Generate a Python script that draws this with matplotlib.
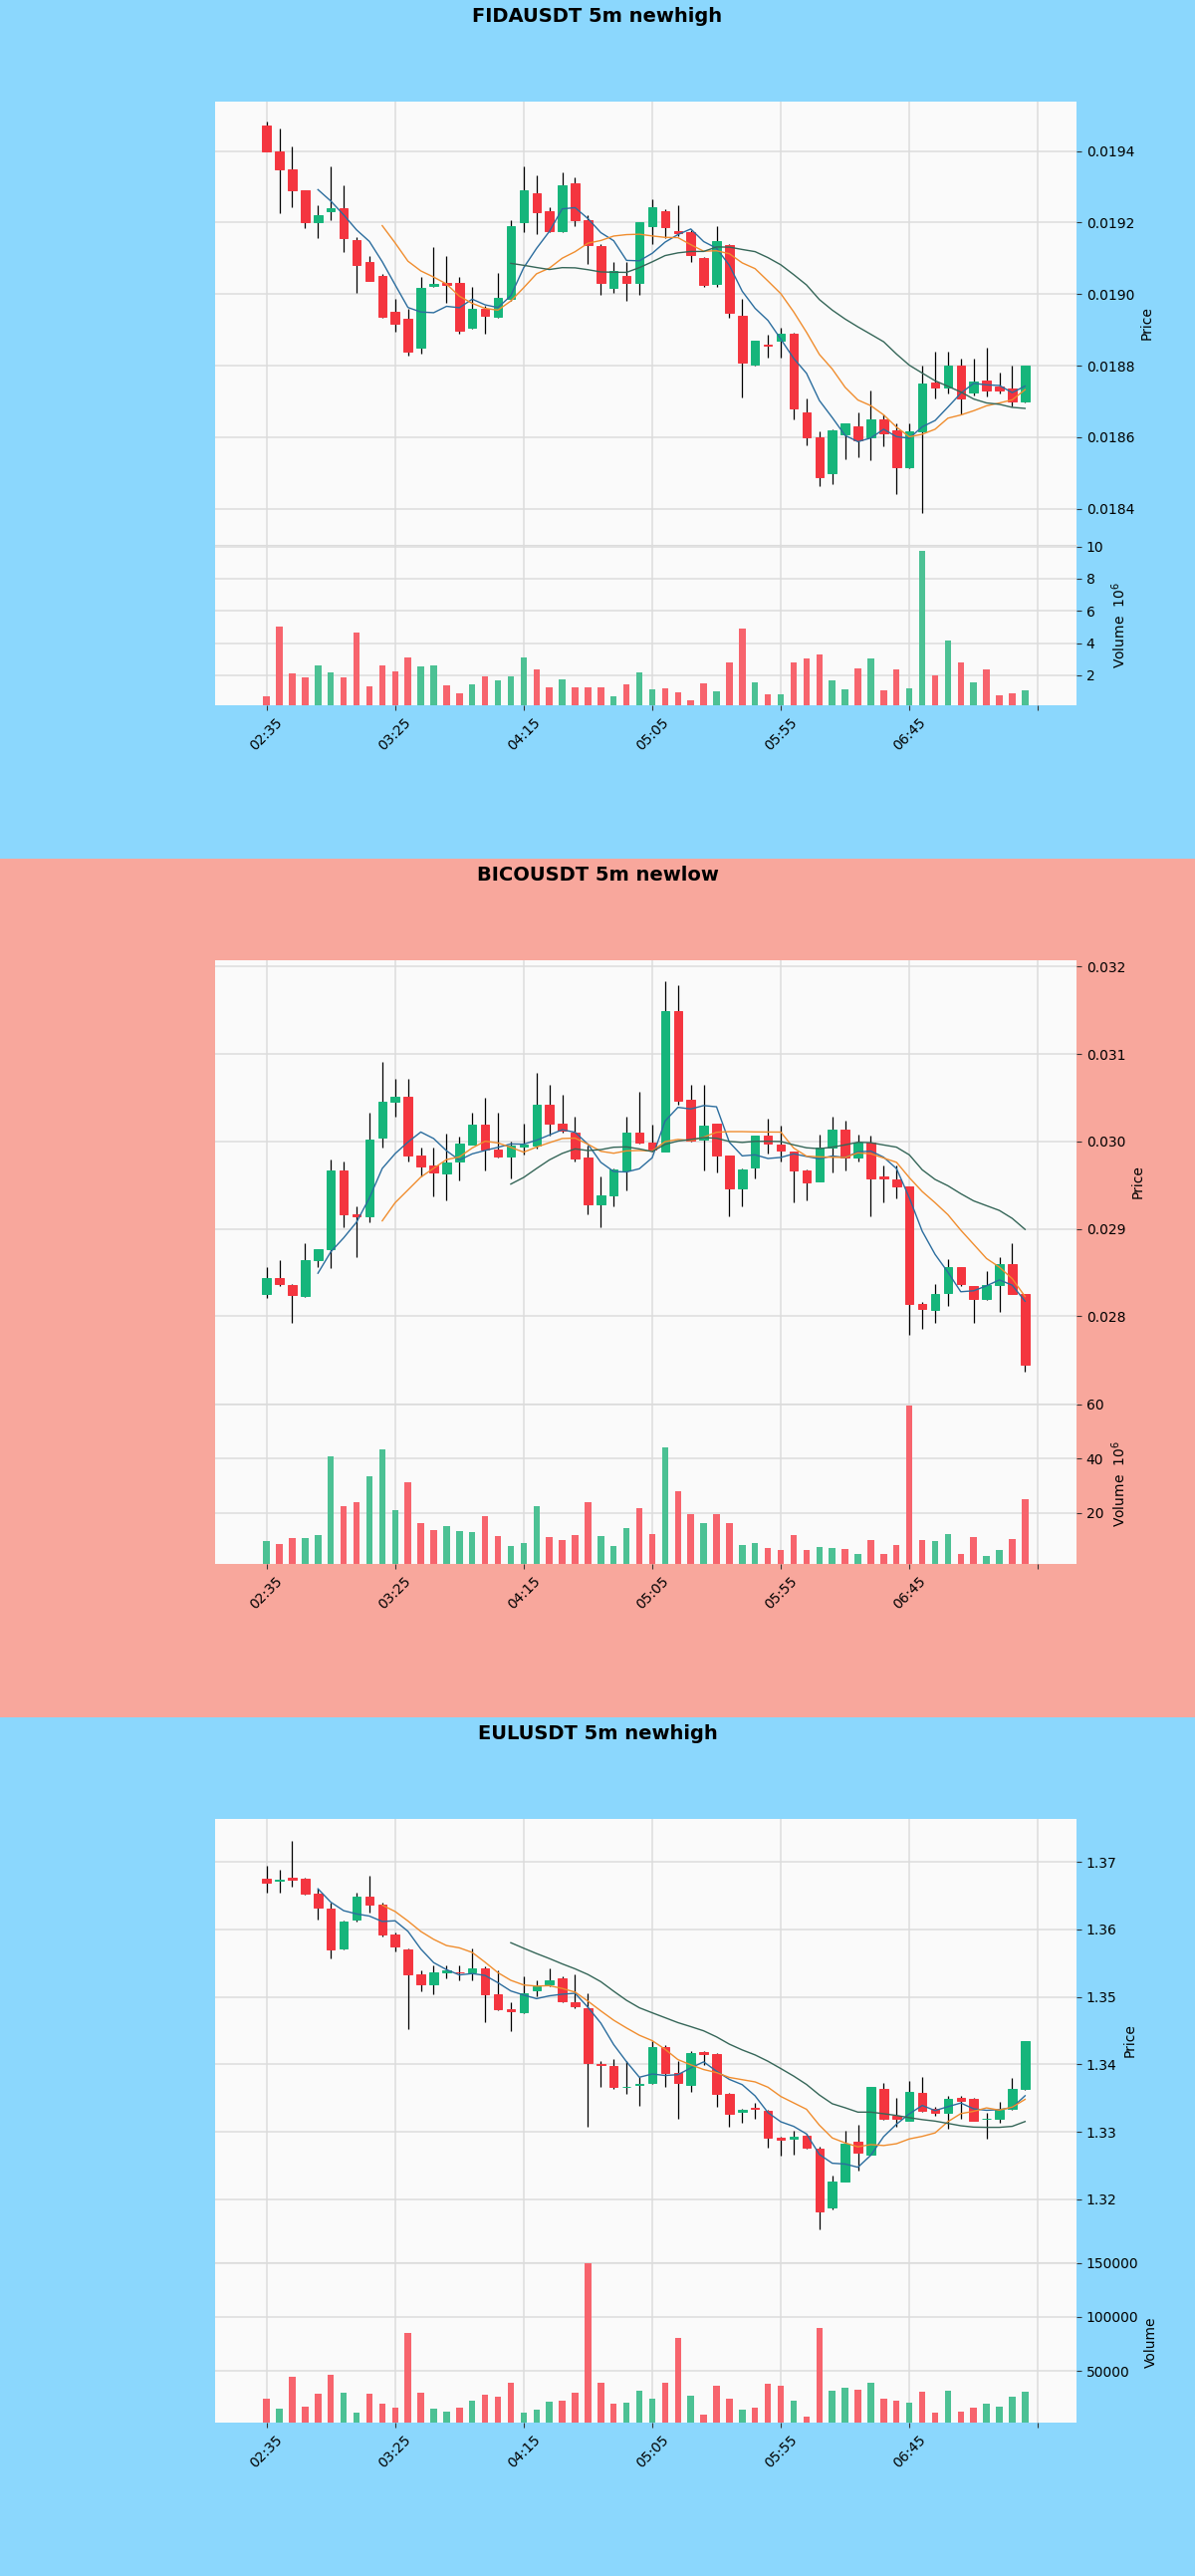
import numpy as np
import pandas as pd
import matplotlib
matplotlib.use("Agg")
import matplotlib.pyplot as plt
from matplotlib.patches import Rectangle
from matplotlib.ticker import MultipleLocator, FormatStrFormatter

# ---- data ----
tick_labels = ['02:35', '03:25', '04:15', '05:05', '05:55', '06:45', '']

# FIDAUSDT
fida_open = [0.019472, 0.019400, 0.019350, 0.019290, 0.019200, 0.019231, 0.019240, 0.019151, 0.019089, 0.019051,
             0.018950, 0.018932, 0.018850, 0.019024, 0.019030, 0.019032, 0.018907, 0.018960, 0.018937, 0.018986,
             0.019200, 0.019282, 0.019231, 0.019177, 0.019310, 0.019208, 0.019134, 0.019017, 0.019052, 0.019030,
             0.019191, 0.019231, 0.019176, 0.019172, 0.019100, 0.019028, 0.019137, 0.018940, 0.018803, 0.018860,
             0.018869, 0.018890, 0.018668, 0.018599, 0.018500, 0.018608, 0.018631, 0.018600, 0.018649, 0.018619,
             0.018515, 0.018617, 0.018753, 0.018739, 0.018799, 0.018725, 0.018759, 0.018742, 0.018736, 0.018699]
fida_high = [0.019483, 0.019464, 0.019412, 0.019290, 0.019248, 0.019356, 0.019305, 0.019160, 0.019106, 0.019055,
             0.018986, 0.018958, 0.019049, 0.019131, 0.019106, 0.019049, 0.019020, 0.018968, 0.019060, 0.019206,
             0.019356, 0.019333, 0.019242, 0.019339, 0.019327, 0.019220, 0.019140, 0.019089, 0.019089, 0.019202,
             0.019265, 0.019236, 0.019248, 0.019180, 0.019105, 0.019191, 0.019140, 0.018986, 0.018871, 0.018886,
             0.018907, 0.018892, 0.018708, 0.018617, 0.018621, 0.018640, 0.018668, 0.018731, 0.018663, 0.018640,
             0.018640, 0.018799, 0.018839, 0.018839, 0.018819, 0.018819, 0.018850, 0.018782, 0.018799, 0.018801]
fida_low = [0.019400, 0.019225, 0.019242, 0.019185, 0.019157, 0.019208, 0.019117, 0.019003, 0.019036, 0.018933,
            0.018895, 0.018827, 0.018833, 0.019020, 0.018975, 0.018890, 0.018903, 0.018888, 0.018935, 0.018980,
            0.019174, 0.019168, 0.019174, 0.019174, 0.019191, 0.019083, 0.018998, 0.019003, 0.018980, 0.018998,
            0.019140, 0.019157, 0.019162, 0.019089, 0.019020, 0.019020, 0.018935, 0.018710, 0.018801, 0.018822,
            0.018822, 0.018651, 0.018577, 0.018464, 0.018469, 0.018538, 0.018543, 0.018535, 0.018574, 0.018441,
            0.018513, 0.018388, 0.018708, 0.018722, 0.018665, 0.018717, 0.018714, 0.018722, 0.018685, 0.018697]
fida_close = [0.019400, 0.019350, 0.019290, 0.019200, 0.019220, 0.019240, 0.019157, 0.019081, 0.019038, 0.018937,
              0.018918, 0.018839, 0.019018, 0.019028, 0.019026, 0.018899, 0.018958, 0.018939, 0.018990, 0.019191,
              0.019290, 0.019228, 0.019177, 0.019305, 0.019208, 0.019137, 0.019032, 0.019064, 0.019030, 0.019202,
              0.019242, 0.019188, 0.019170, 0.019108, 0.019026, 0.019149, 0.018949, 0.018808, 0.018869, 0.018857,
              0.018888, 0.018680, 0.018599, 0.018489, 0.018619, 0.018638, 0.018592, 0.018651, 0.018611, 0.018515,
              0.018617, 0.018751, 0.018739, 0.018799, 0.018708, 0.018756, 0.018730, 0.018730, 0.018699, 0.018799]
fida_vol = [0.72, 5.00, 2.14, 1.84, 2.63, 2.19, 1.89, 4.67, 1.32, 2.63,
            2.21, 3.13, 2.56, 2.58, 1.39, 0.89, 1.44, 1.96, 1.71, 1.96,
            3.13, 2.34, 1.22, 1.76, 1.22, 1.22, 1.27, 0.70, 1.44, 2.19,
            1.12, 1.20, 0.95, 0.45, 1.50, 1.00, 2.82, 4.89, 1.57, 0.82,
            0.82, 2.82, 3.02, 3.32, 1.70, 1.15, 2.44, 3.07, 1.07, 2.39,
            1.20, 9.73, 2.02, 4.14, 2.82, 1.57, 2.39, 0.75, 0.90, 1.05]  # x 1e6

# BICOUSDT
bico_open = [0.028256, 0.028442, 0.028358, 0.028233, 0.028642, 0.028767, 0.029674, 0.029172, 0.029140, 0.030047,
             0.030456, 0.030512, 0.029837, 0.029721, 0.029637, 0.029767, 0.029967, 0.030195, 0.029907, 0.029828,
             0.029944, 0.029953, 0.030419, 0.030209, 0.030102, 0.029814, 0.029279, 0.029386, 0.029665, 0.030102,
             0.029991, 0.029884, 0.031488, 0.030474, 0.030023, 0.030200, 0.029837, 0.029465, 0.029698, 0.030070,
             0.029967, 0.029884, 0.029665, 0.029544, 0.029930, 0.030140, 0.029814, 0.029986, 0.029595, 0.029567,
             0.029488, 0.028140, 0.028070, 0.028270, 0.028558, 0.028349, 0.028195, 0.028363, 0.028595, 0.028256]
bico_high = [0.028558, 0.028642, 0.028365, 0.028837, 0.028770, 0.029791, 0.029767, 0.029256, 0.030326, 0.030916,
             0.030721, 0.030721, 0.029930, 0.029930, 0.030093, 0.030056, 0.030326, 0.030502, 0.030335, 0.030000,
             0.030200, 0.030791, 0.030651, 0.030535, 0.030288, 0.029953, 0.029605, 0.029690, 0.030279, 0.030567,
             0.030195, 0.031837, 0.031791, 0.030651, 0.030651, 0.030205, 0.029840, 0.029690, 0.030070, 0.030256,
             0.030186, 0.029890, 0.029680, 0.030084, 0.030279, 0.030242, 0.030084, 0.030070, 0.029721, 0.029721,
             0.029490, 0.028163, 0.028372, 0.028651, 0.028560, 0.028352, 0.028512, 0.028674, 0.028837, 0.028260]
bico_low = [0.028209, 0.028349, 0.027930, 0.028225, 0.028558, 0.028549, 0.029023, 0.028674, 0.029080, 0.029930,
            0.030279, 0.029767, 0.029605, 0.029372, 0.029326, 0.029558, 0.029960, 0.029665, 0.029820, 0.029572,
            0.029851, 0.029921, 0.030070, 0.030102, 0.029767, 0.029163, 0.029023, 0.029256, 0.029442, 0.029977,
            0.029884, 0.029880, 0.030419, 0.030000, 0.029674, 0.029651, 0.029140, 0.029256, 0.029581, 0.029861,
            0.029767, 0.029302, 0.029326, 0.029540, 0.029651, 0.029674, 0.029767, 0.029140, 0.029302, 0.029349,
            0.027791, 0.027861, 0.027930, 0.028116, 0.028349, 0.027930, 0.028190, 0.028047, 0.028250, 0.027372]
bico_close = [0.028442, 0.028372, 0.028242, 0.028642, 0.028767, 0.029665, 0.029172, 0.029140, 0.030023, 0.030456,
              0.030512, 0.029837, 0.029712, 0.029651, 0.029758, 0.029977, 0.030195, 0.029907, 0.029828, 0.029953,
              0.029963, 0.030419, 0.030209, 0.030130, 0.029805, 0.029279, 0.029386, 0.029684, 0.030102, 0.029991,
              0.029907, 0.031488, 0.030465, 0.030009, 0.030186, 0.029837, 0.029460, 0.029684, 0.030070, 0.029977,
              0.029898, 0.029665, 0.029535, 0.029930, 0.030140, 0.029814, 0.029986, 0.029581, 0.029581, 0.029488,
              0.028140, 0.028079, 0.028256, 0.028558, 0.028372, 0.028195, 0.028363, 0.028595, 0.028256, 0.027451]
bico_vol = [9.9, 8.7, 10.7, 10.7, 11.8, 40.9, 22.6, 24.1, 33.7, 43.5,
            21.1, 31.3, 16.5, 13.9, 15.4, 13.4, 13.0, 18.8, 11.5, 7.8,
            8.9, 22.6, 11.1, 10.2, 11.8, 24.1, 11.5, 7.8, 14.5, 21.8,
            12.3, 44.3, 28.2, 19.8, 16.2, 19.8, 16.5, 8.1, 8.9, 7.2,
            6.3, 11.9, 6.3, 7.6, 7.2, 6.9, 5.0, 10.2, 5.0, 8.4,
            59.5, 10.2, 9.9, 12.4, 5.0, 11.1, 4.3, 6.6, 10.4, 25.3]  # x 1e6

# EULUSDT
eul_open = [1.3675, 1.3672, 1.3676, 1.3675, 1.3653, 1.3631, 1.3572, 1.3614, 1.3648, 1.3637,
            1.3593, 1.3570, 1.3533, 1.3519, 1.3537, 1.3537, 1.3537, 1.3543, 1.3504, 1.3482,
            1.3478, 1.3510, 1.3518, 1.3527, 1.3492, 1.3484, 1.3401, 1.3398, 1.3366, 1.3369,
            1.3373, 1.3426, 1.3388, 1.3370, 1.3418, 1.3416, 1.3357, 1.3330, 1.3335, 1.3331,
            1.3292, 1.3290, 1.3295, 1.3275, 1.3188, 1.3227, 1.3286, 1.3267, 1.3363, 1.3324,
            1.3317, 1.3358, 1.3334, 1.3328, 1.3351, 1.3349, 1.3319, 1.3319, 1.3334, 1.3363]
eul_high = [1.3695, 1.3689, 1.3731, 1.3676, 1.3661, 1.3640, 1.3613, 1.3655, 1.3679, 1.3640,
            1.3596, 1.3572, 1.3540, 1.3546, 1.3546, 1.3546, 1.3572, 1.3545, 1.3540, 1.3492,
            1.3531, 1.3525, 1.3542, 1.3531, 1.3534, 1.3506, 1.3405, 1.3408, 1.3405, 1.3381,
            1.3435, 1.3429, 1.3405, 1.3420, 1.3420, 1.3417, 1.3358, 1.3334, 1.3343, 1.3332,
            1.3293, 1.3302, 1.3298, 1.3278, 1.3235, 1.3302, 1.3311, 1.3366, 1.3372, 1.3351,
            1.3376, 1.3382, 1.3337, 1.3354, 1.3354, 1.3350, 1.3328, 1.3345, 1.3380, 1.3434]
eul_low = [1.3655, 1.3655, 1.3664, 1.3652, 1.3614, 1.3557, 1.3570, 1.3612, 1.3625, 1.3590,
           1.3567, 1.3453, 1.3508, 1.3504, 1.3528, 1.3525, 1.3524, 1.3462, 1.3480, 1.3450,
           1.3476, 1.3501, 1.3516, 1.3492, 1.3483, 1.3307, 1.3366, 1.3364, 1.3357, 1.3339,
           1.3371, 1.3367, 1.3319, 1.3360, 1.3399, 1.3337, 1.3308, 1.3314, 1.3319, 1.3277,
           1.3265, 1.3266, 1.3275, 1.3155, 1.3185, 1.3226, 1.3242, 1.3266, 1.3318, 1.3308,
           1.3316, 1.3330, 1.3324, 1.3305, 1.3320, 1.3316, 1.3290, 1.3314, 1.3333, 1.3362]
eul_close = [1.3669, 1.3674, 1.3673, 1.3653, 1.3632, 1.3570, 1.3611, 1.3649, 1.3637, 1.3592,
             1.3575, 1.3533, 1.3518, 1.3536, 1.3540, 1.3536, 1.3543, 1.3504, 1.3482, 1.3479,
             1.3506, 1.3516, 1.3525, 1.3494, 1.3486, 1.3402, 1.3399, 1.3366, 1.3367, 1.3371,
             1.3426, 1.3388, 1.3372, 1.3417, 1.3416, 1.3357, 1.3327, 1.3333, 1.3334, 1.3292,
             1.3289, 1.3293, 1.3277, 1.3182, 1.3227, 1.3283, 1.3269, 1.3366, 1.3320, 1.3319,
             1.3360, 1.3331, 1.3328, 1.3349, 1.3346, 1.3317, 1.3320, 1.3333, 1.3364, 1.3434]
eul_vol = [24000, 15500, 44200, 17400, 28700, 46100, 29800, 11600, 28700, 20200,
           16300, 84900, 29800, 15100, 12400, 16300, 22100, 27900, 26000, 39500,
           11600, 14300, 21300, 22900, 29800, 150000, 39500, 20200, 20900, 31800,
           24800, 39500, 81000, 26700, 9700, 36400, 24800, 14300, 16300, 38400,
           36400, 22900, 7800, 89900, 31800, 34900, 32900, 39500, 24000, 22100,
           20900, 31000, 11200, 31800, 12400, 16300, 20200, 17400, 26000, 31000]

titles = ['FIDAUSDT 5m newhigh', 'BICOUSDT 5m newlow', 'EULUSDT 5m newhigh']
mav_periods = [5, 10, 20]

# ---- styling ----
BG_HIGH = '#8bd7fd'
BG_LOW = '#f8a79c'
UP, DOWN = '#16b57b', '#f4353f'
VUP, VDOWN = '#4cc194', '#f7646d'
MAV_COLORS = ['#2b6d9e', '#f08d2e', '#356658']
GRID = '#dcdcdc'

W, H = 1200, 2586
PANEL_H = 862

panels = [
    dict(o=fida_open, h=fida_high, l=fida_low, c=fida_close, v=fida_vol, bg=BG_HIGH,
         ylim=(0.018299, 0.019538), ystep=0.0002, yfmt='%.4f',
         vlim=(0.135, 10.1), vstep=2, vlabel='Volume  $10^{6}$'),
    dict(o=bico_open, h=bico_high, l=bico_low, c=bico_close, v=bico_vol, bg=BG_LOW,
         ylim=(0.027002, 0.032073), ystep=0.001, yfmt='%.3f',
         vlim=(1.3, 60.3), vstep=20, vlabel='Volume  $10^{6}$'),
    dict(o=eul_open, h=eul_high, l=eul_low, c=eul_close, v=eul_vol, bg=BG_HIGH,
         ylim=(1.31069, 1.37637), ystep=0.01, yfmt='%.2f',
         vlim=(2300, 150500), vstep=50000, vlabel='Volume'),
]

fig = plt.figure(figsize=(W / 100, H / 100), dpi=100)


def fy(px):
    # pixel from top -> figure fraction
    return 1 - px / H


def style_ax(ax):
    ax.set_facecolor('#fafafa')
    ax.grid(True, color=GRID, linewidth=1.1)
    ax.set_axisbelow(True)
    for s in ax.spines.values():
        s.set_visible(False)
    ax.yaxis.tick_right()
    ax.yaxis.set_label_position('right')
    ax.tick_params(axis='both', labelsize=10, length=3.5, color='#333333')
    ax.set_xlim(-4.0, 63.0)
    ax.set_xticks(np.arange(0, 61, 10))


for k, (p, title) in enumerate(zip(panels, titles)):
    top = PANEL_H * k
    fig.add_artist(Rectangle((0, fy(top + PANEL_H)), 1, PANEL_H / H,
                             transform=fig.transFigure, facecolor=p['bg'],
                             edgecolor='none', zorder=-10))
    fig.text(0.5, fy(top + 16), title, ha='center', va='center',
             fontsize=14, fontweight='bold', color='black')

    left, right = 216 / W, (1081 - 216) / W
    ax = fig.add_axes([left, fy(top + 547), right, 445 / H])
    axv = fig.add_axes([left, fy(top + 708), right, 161 / H], sharex=ax)

    df = pd.DataFrame({'o': p['o'], 'h': p['h'], 'l': p['l'], 'c': p['c'], 'v': p['v']})
    x = np.arange(len(df))
    up = df['c'] >= df['o']

    style_ax(ax)
    style_ax(axv)

    # wicks
    ax.vlines(x, df['l'], df['h'], color='black', linewidth=0.9, zorder=2)
    # bodies
    body_lo = np.minimum(df['o'], df['c'])
    body_h = (df['c'] - df['o']).abs()
    cols = np.where(up, UP, DOWN)
    ax.bar(x, body_h, bottom=body_lo, width=0.66, color=cols, edgecolor=cols,
           linewidth=0.7, zorder=3)

    # moving averages
    for n, mc in zip(mav_periods, MAV_COLORS):
        ma = df['c'].rolling(n).mean()
        ax.plot(x, ma, color=mc, linewidth=1.0, zorder=4)

    ax.set_ylim(*p['ylim'])
    ax.yaxis.set_major_locator(MultipleLocator(p['ystep']))
    ax.yaxis.set_major_formatter(FormatStrFormatter(p['yfmt']))
    ax.set_ylabel('Price', fontsize=10)
    ax.tick_params(axis='x', labelbottom=False, length=0)

    # volume
    vcols = np.where(up, VUP, VDOWN)
    axv.bar(x, df['v'], width=0.5, color=vcols, zorder=3)
    axv.set_ylim(*p['vlim'])
    axv.yaxis.set_major_locator(MultipleLocator(p['vstep']))
    axv.yaxis.set_major_formatter(FormatStrFormatter('%d'))
    axv.set_ylabel(p['vlabel'], fontsize=10)
    axv.spines['top'].set_visible(True)
    axv.spines['top'].set_color(GRID)
    axv.set_xticks(np.arange(0, 61, 10))
    axv.set_xticklabels(tick_labels, rotation=45, ha='center')

fig.savefig('out.png', dpi=100)
